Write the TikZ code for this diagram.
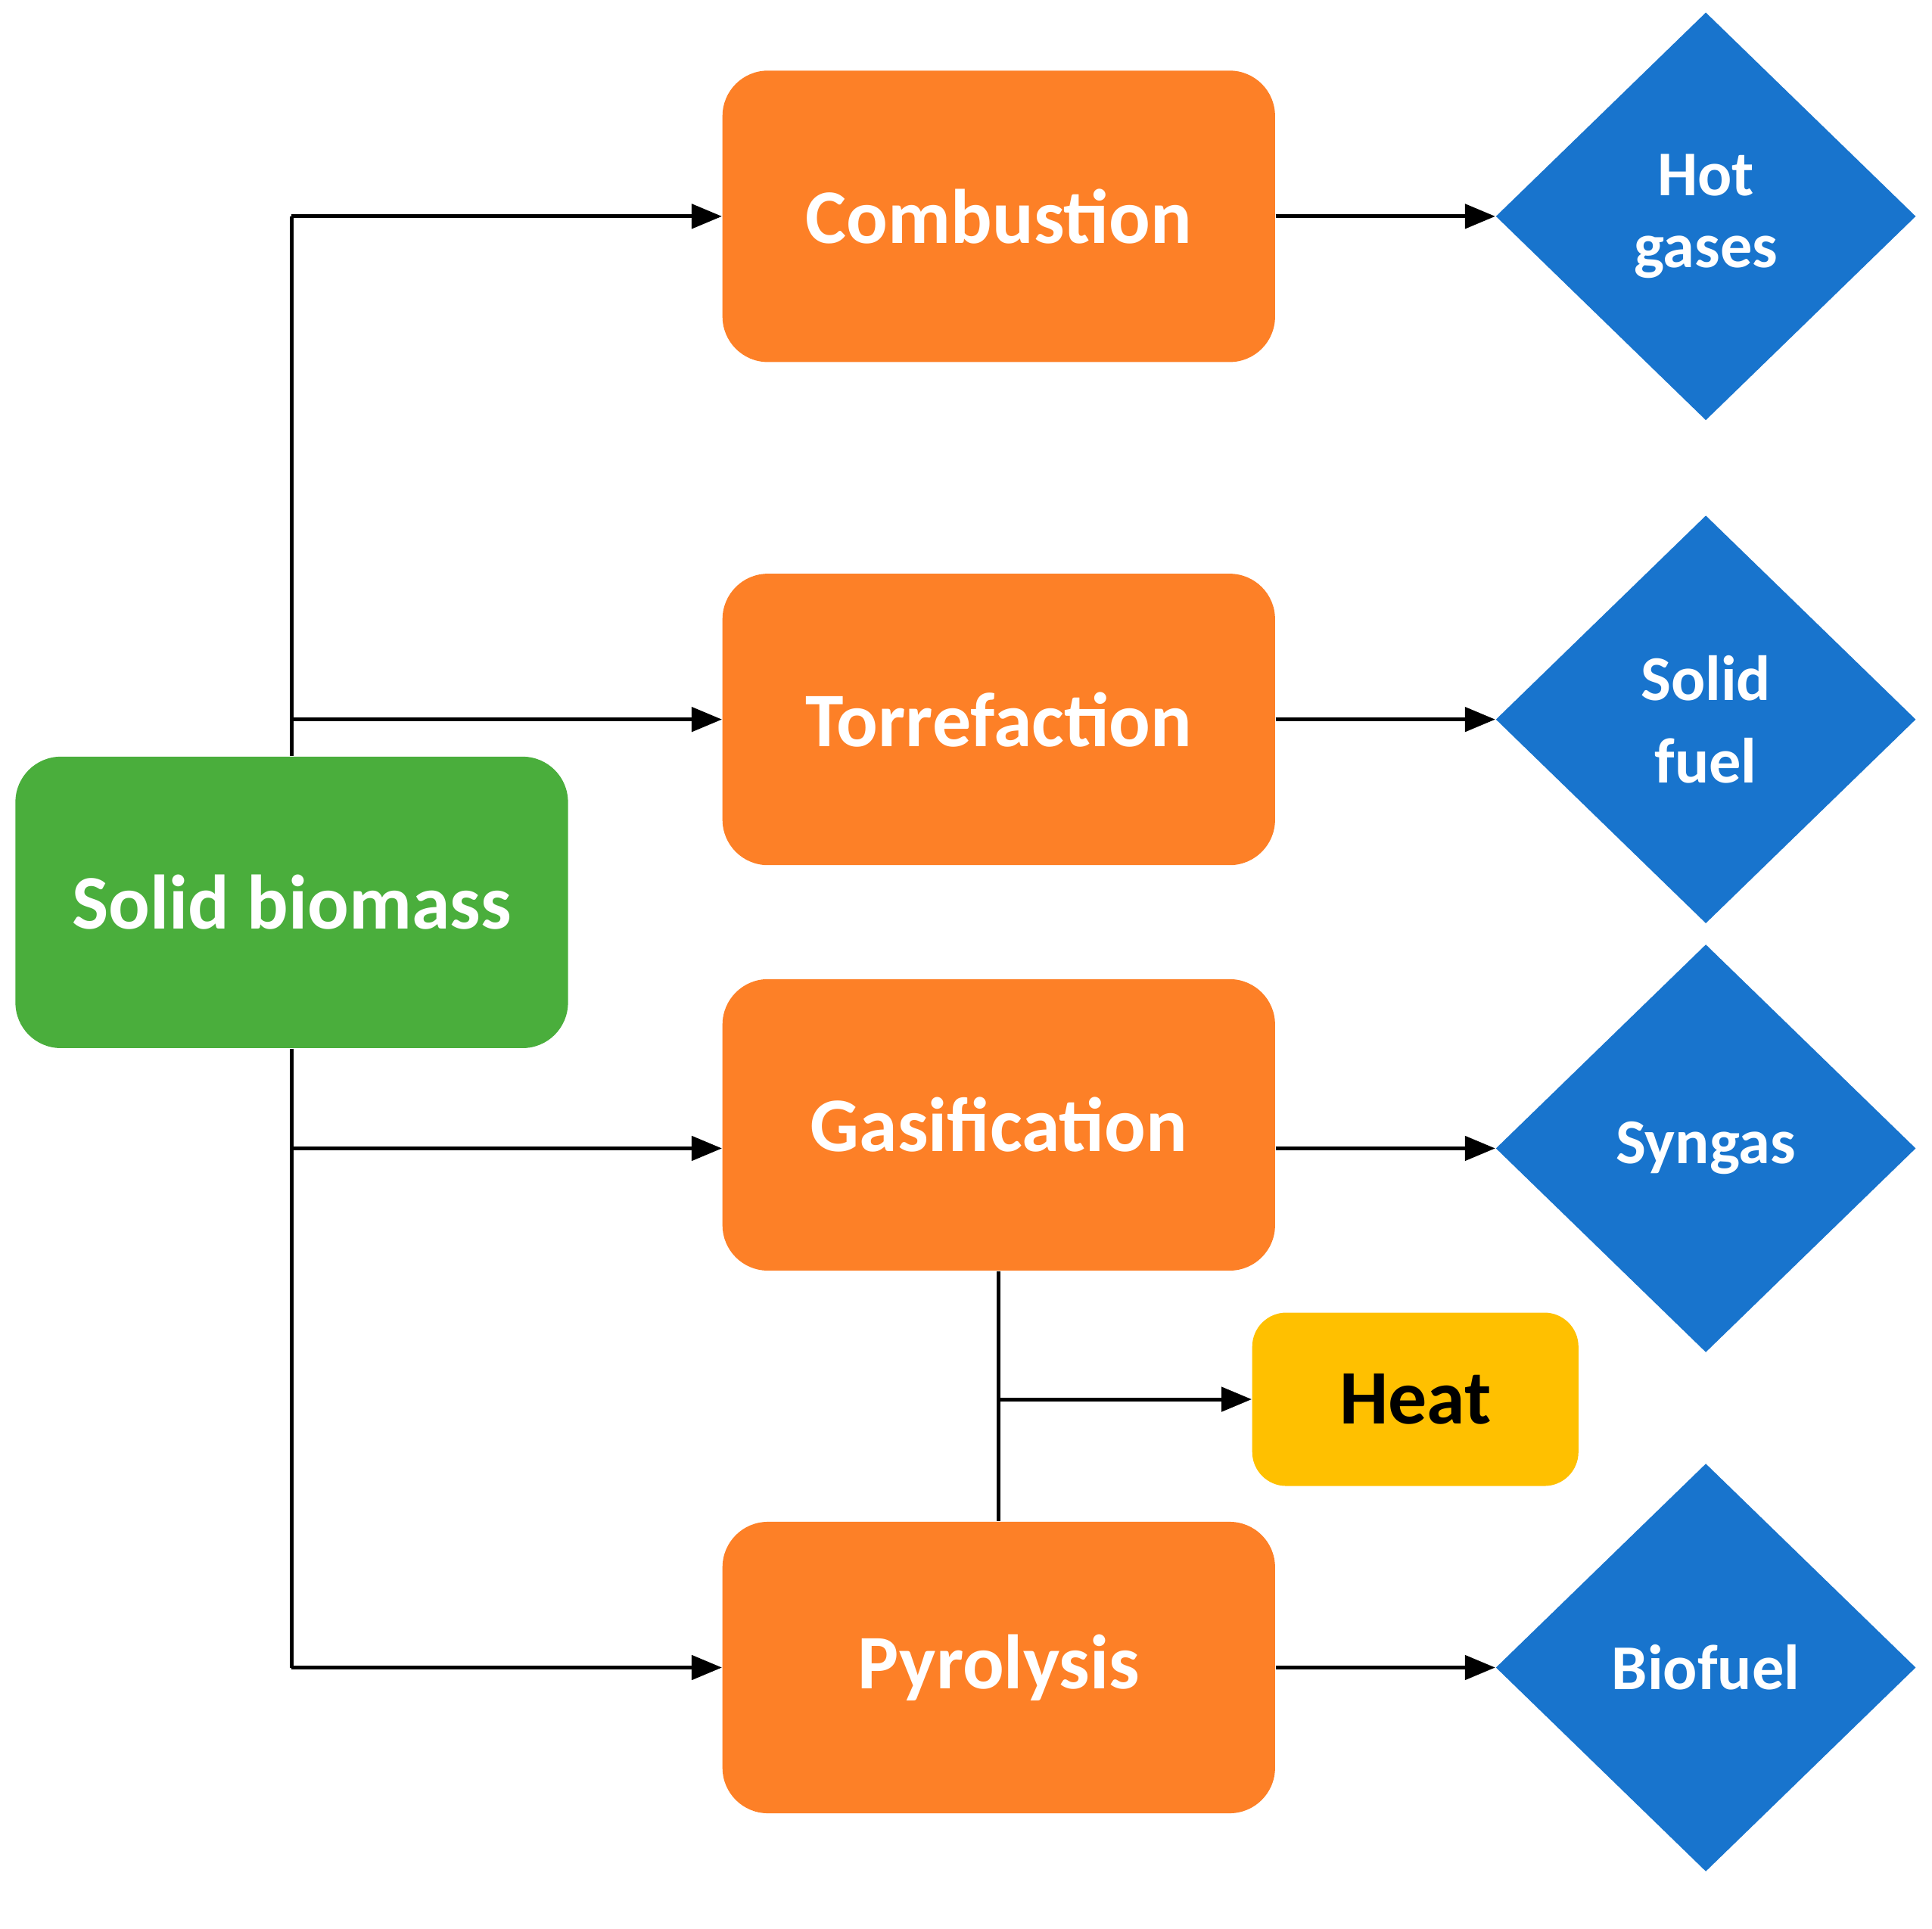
\documentclass[tikz,border=0pt]{standalone}
\usepackage{fontspec}
\setmainfont{Carlito}
\usetikzlibrary{shapes.geometric,arrows.meta}
\definecolor{org}{RGB}{253,128,39}
\definecolor{grn}{RGB}{74,174,60}
\definecolor{blu}{RGB}{24,116,205}
\definecolor{yel}{RGB}{255,192,0}
\begin{document}
\begin{tikzpicture}[x=0.1633mm,y=-0.1633mm,
  box/.style={rectangle,rounded corners=0.6cm,fill=org,text=white,font=\fontsize{29}{34}\selectfont\bfseries,minimum width=7.3cm,minimum height=3.85cm,inner sep=0},
  dia/.style={diamond,fill=blu,text=white,font=\fontsize{24}{29}\selectfont\bfseries,minimum width=5.55cm,minimum height=5.39cm,inner sep=0,align=center,text width=2.6cm},
  ln/.style={line width=1.4pt},
  arr/.style={ln,-{Triangle[length=0.4cm,width=0.32cm]}}]
\useasboundingbox (0,0) rectangle (1563,1560);
\node[box,fill=grn] (sb) at (236,730) {Solid biomass};
\node[box] (c) at (808,175) {Combustion};
\node[box] (t) at (808,582) {Torrefaction};
\node[box] (g) at (808,910) {Gasification};
\node[box] (p) at (808,1349) {Pyrolysis};
\node[rectangle,rounded corners=0.45cm,fill=yel,font=\fontsize{29}{34}\selectfont\bfseries,minimum width=4.31cm,minimum height=2.29cm] (h) at (1145,1132) {Heat};
\node[dia] (d1) at (1380,175) {Hot\\[-2pt]gases};
\node[dia] (d2) at (1380,582) {Solid\\[2pt]fuel};
\node[dia] (d3) at (1380,929) {Syngas};
\node[dia] (d4) at (1380,1349) {Biofuel};
\coordinate (a1) at (236,175);
\coordinate (a2) at (236,582);
\coordinate (a3) at (236,929);
\coordinate (a4) at (236,1349);
\draw[ln] (sb.north) -- (a1);
\draw[ln] (sb.south) -- (a4);
\draw[arr] (a1) -- (c.west);
\draw[arr] (a2) -- (t.west);
\draw[arr] (a3) -- (g.west |- a3);
\draw[arr] (a4) -- (p.west);
\draw[arr] (c.east) -- (d1.west);
\draw[arr] (t.east) -- (d2.west);
\draw[arr] (g.east |- d3) -- (d3.west);
\draw[arr] (p.east) -- (d4.west);
\coordinate (hm) at (808,1132);
\draw[ln] (g.south) -- (p.north);
\draw[arr] (hm) -- (h.west);
\end{tikzpicture}
\end{document}
